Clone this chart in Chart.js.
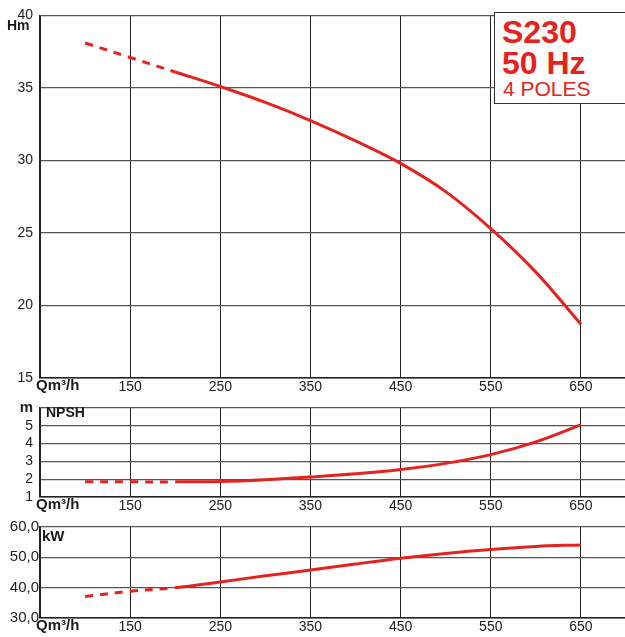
<!DOCTYPE html>
<html>
<head>
<meta charset="utf-8">
<script src="https://cdn.jsdelivr.net/npm/chart.js@4/dist/chart.umd.min.js"></script>
<style>
  html, body { margin:0; padding:0; background:#fff; overflow:hidden; width:625px; height:637px; }
  #wrap { position:relative; width:625px; height:637px; overflow:hidden; font-family:"Liberation Sans", Arial, sans-serif; }
  canvas { position:absolute; left:0; }
  .lbl { position:absolute; font-weight:bold; color:#1a1a1a; line-height:1; white-space:nowrap; }
  #box { position:absolute; left:494px; top:12px; width:140px; height:90px; border:1.5px solid #333; background:#fff; }
  #box div { position:absolute; color:#e42320; line-height:1; white-space:nowrap; }
</style>
</head>
<body>
<div id="wrap">
  <canvas id="cHead" width="626" height="400" style="top:0px"></canvas>
  <canvas id="cNpsh" width="626" height="127" style="top:392px"></canvas>
  <canvas id="cKw" width="626" height="125" style="top:515px"></canvas>

  <div class="lbl" style="left:7px; top:18px; font-size:14px;">Hm</div>
  <div class="lbl" style="left:36px; top:377px; font-size:15px;">Qm³/h</div>
  <div class="lbl" style="left:46px; top:405px; font-size:14px;">NPSH</div>
  <div class="lbl" style="left:36px; top:496px; font-size:15px;">Qm³/h</div>
  <div class="lbl" style="left:42px; top:528px; font-size:15px;">kW</div>
  <div class="lbl" style="left:36px; top:617px; font-size:15px;">Qm³/h</div>

  <div id="box">
    <div style="left:7px; top:2.5px; font-size:32px; font-weight:bold;">S230</div>
    <div style="left:7px; top:33.5px; font-size:32px; font-weight:bold;">50 Hz</div>
    <div style="left:8px; top:64.5px; font-size:21px;">4 POLES</div>
  </div>
</div>
<script>
// ---- Data ----
const flow     = [100, 150, 200, 250, 300, 350, 400, 450, 500, 550, 600, 650];
const headHm   = [38.1, 37.1, 36.1, 35.1, 34.0, 32.75, 31.35, 29.8, 27.85, 25.3, 22.3, 18.7];
const npshM    = [1.85, 1.85, 1.85, 1.87, 1.97, 2.12, 2.3, 2.55, 2.89, 3.38, 4.1, 5.05];
const powerKw  = [37.1, 38.8, 40.0, 41.9, 43.9, 45.8, 47.8, 49.7, 51.3, 52.6, 53.6, 54.1];
const xTicks   = [50, 150, 250, 350, 450, 550, 650];
const dashedUpTo = 200;

const RED = '#e42320';
const FONT = '"Liberation Sans", Arial, sans-serif';

function makeChart(id, values, yMin, yMax, yStep, yCallback, yPad, yFont) {
  return new Chart(document.getElementById(id), {
    type: 'line',
    data: {
      datasets: [{
        data: flow.map((q, i) => ({ x: q, y: values[i] })),
        borderColor: RED,
        borderWidth: 3,
        pointRadius: 0,
        fill: false,
        tension: 0.35,
        segment: {
          borderDash: ctx => ctx.p1.parsed.x <= dashedUpTo ? [8, 7] : undefined
        }
      }]
    },
    options: {
      responsive: false,
      animation: false,
      events: [],
      layout: { padding: { top: 12, left: 0, right: 0, bottom: 0 } },
      plugins: { legend: { display: false }, tooltip: { enabled: false } },
      scales: {
        x: {
          type: 'linear',
          min: 50, max: 700,
          afterBuildTicks: s => { s.ticks = xTicks.map(v => ({ value: v })); },
          afterFit: s => { s.height = 22; },
          grid: { color: '#222', lineWidth: 1, drawTicks: false },
          border: { color: '#222', width: 1.5 },
          ticks: {
            padding: 1, color: '#222', maxRotation: 0, autoSkip: false,
            font: { family: FONT, size: 14 },
            callback: v => v === 50 ? '' : String(v)
          }
        },
        y: {
          min: yMin, max: yMax,
          afterFit: s => { s.width = 40; },
          grid: { color: '#555', lineWidth: 1.2, drawTicks: false },
          border: { color: '#222', width: 1.5 },
          ticks: {
            stepSize: yStep, padding: yPad, color: '#222', autoSkip: false,
            font: yFont,
            callback: yCallback
          }
        }
      }
    }
  });
}

makeChart('cHead', headHm, 15, 40, 5, v => String(v), 7, { family: FONT, size: 14 });
makeChart('cNpsh', npshM, 1, 6, 1, v => v === 6 ? 'm' : String(v), 7,
  ctx => (ctx.tick && ctx.tick.value === 6) ? { family: FONT, size: 15, weight: 'bold' } : { family: FONT, size: 14 });
makeChart('cKw', powerKw, 30, 60, 10, v => v.toFixed(1).replace('.', ','), 1, { family: FONT, size: 15 });
</script>
</body>
</html>
